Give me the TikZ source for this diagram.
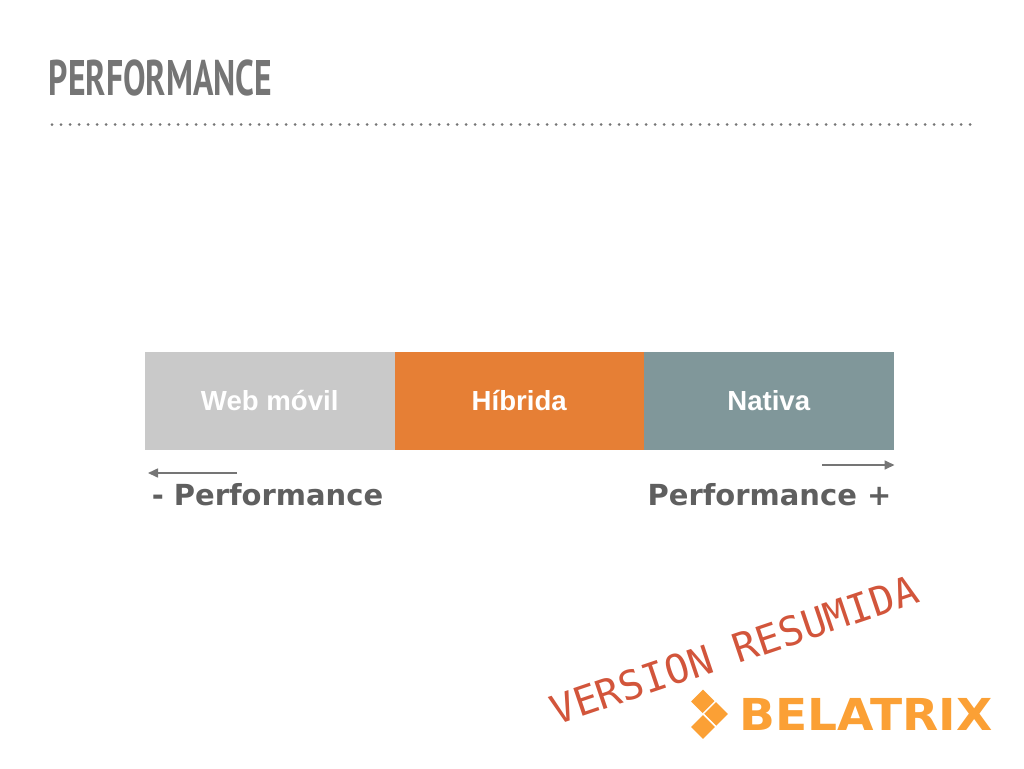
\documentclass[tikz,border=0pt]{standalone}
\usepackage{fontspec}
\setmainfont{Liberation Sans}
\newfontfamily\monofont{DejaVu Sans Mono}
\newfontfamily\logofont{DejaVu Sans}
\newfontfamily\titlefont{PT Sans}
\usetikzlibrary{shapes.geometric, arrows.meta}
\definecolor{webgray}{HTML}{C9C9C9}
\definecolor{hibridaorange}{HTML}{E67F35}
\definecolor{nativateal}{HTML}{80979A}
\definecolor{titlegray}{HTML}{757575}
\definecolor{labelgray}{HTML}{5F5F5F}
\definecolor{stampred}{HTML}{D2553B}
\definecolor{logoorange}{HTML}{FBA035}
\tikzset{
    bar/.style={minimum width=249.5pt, minimum height=98pt, inner sep=0pt, text=white,
        font=\bfseries\fontsize{27.6}{27.6}\selectfont},
    perf/.style={inner sep=0pt, text=labelgray,
        font=\logofont\bfseries\fontsize{29}{29}\selectfont},
    tile/.style={diamond, fill=logoorange, draw=white, line width=1.5pt, minimum width=27pt, minimum height=27pt, inner sep=0pt},
    pointer/.style={draw=titlegray, line width=1.6pt, -{Triangle[length=10pt,width=9pt]}}
}
\begin{document}
\begin{tikzpicture}[x=1pt, y=-1pt]
    \useasboundingbox (0,0) rectangle (1024,768);

    \draw (160.5, 78) node[inner sep=0pt, xscale=.674, text=titlegray, font=\titlefont\bfseries\fontsize{50}{50}\selectfont] (title) {PERFORMANCE};
    \coordinate (ruleL) at (52, 124.5);
    \coordinate (ruleR) at (973, 124.5);
    \draw[titlegray, line width=3pt, line cap=round, dash pattern=on 0pt off 9pt] (ruleL) -- (ruleR);

    \draw (269.75, 401) node[bar, fill=webgray] (web) {Web móvil};
    \draw (519.25, 401) node[bar, fill=hibridaorange] (hibrida) {Híbrida};
    \draw (768.75, 401) node[bar, fill=nativateal] (nativa) {Nativa};

    \coordinate (lessA) at (237, 473);
    \coordinate (lessB) at (148, 473);
    \coordinate (moreA) at (822, 465);
    \coordinate (moreB) at (894.5, 465);
    \draw[pointer] (lessA) -- (lessB);
    \draw[pointer] (moreA) -- (moreB);

    \draw (267.5, 495) node[perf] (less) {- Performance};
    \draw (769.5, 495) node[perf] (more) {Performance +};

    \draw (734, 650) node[rotate=18.7, inner sep=0pt, text=stampred, font=\monofont\fontsize{40}{40}\selectfont] (stamp) {VERSION RESUMIDA};

    \draw (703, 701.5) node[tile] (tileA) {};
    \draw (716, 714) node[tile] (tileB) {};
    \draw (703, 727) node[tile] (tileC) {};
    \draw (866, 714) node[inner sep=0pt, xscale=1.07, text=logoorange, font=\logofont\bfseries\fontsize{44}{44}\selectfont] (logo) {BELATRIX};
\end{tikzpicture}
\end{document}
